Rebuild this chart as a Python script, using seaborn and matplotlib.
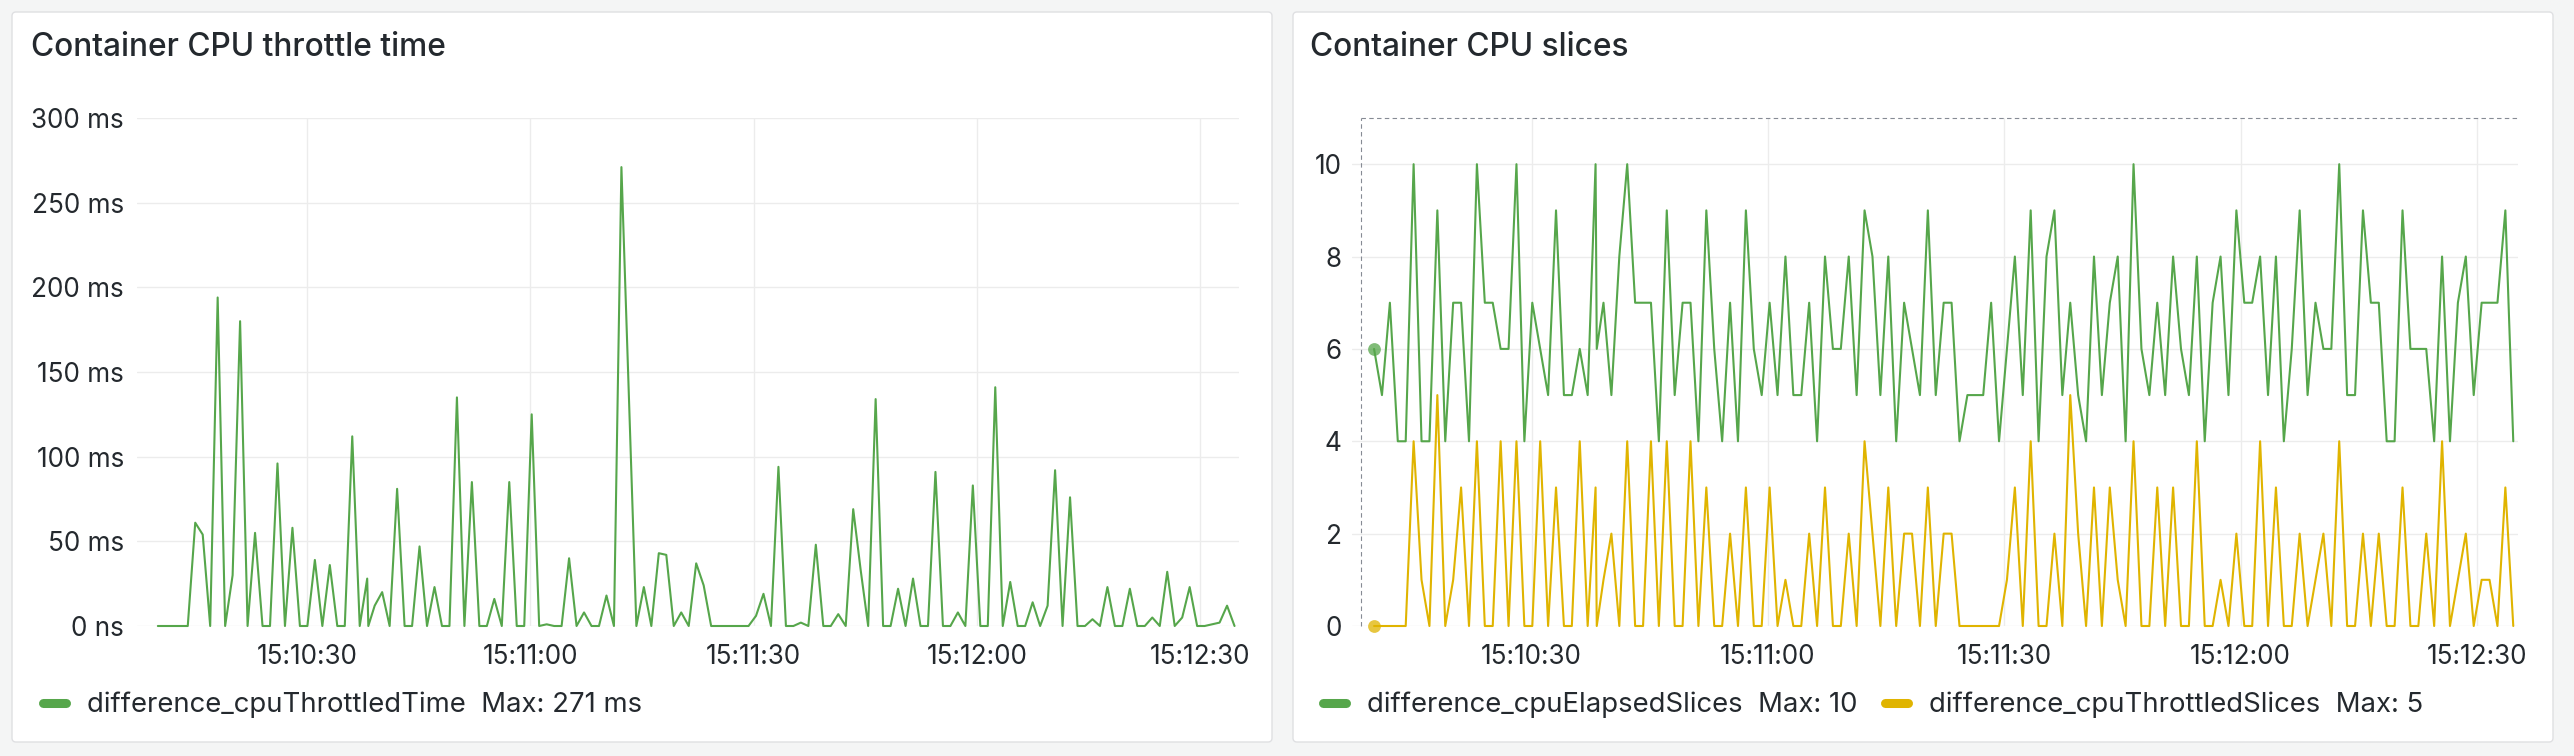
import pandas as pd
import seaborn as sns
import matplotlib.pyplot as plt
import matplotlib.dates as mdates
from matplotlib.lines import Line2D
from matplotlib.patches import FancyBboxPatch
from matplotlib.ticker import FixedLocator, FuncFormatter

# ---- data -----------------------------------------------------------------
# one scrape roughly every second, plus one extra scrape just after sample 28
start = "2024-01-01 15:10:10.0"
end = "2024-01-01 15:12:34.6"
n_regular = 145
extra_after = 28
extra_offset_s = 0.15

throttled_time_ms = [
    0, 0, 0, 0, 0, 61, 54, 0, 194, 0, 30, 180, 0, 55, 0, 0, 96, 0, 58, 0,
    0, 39, 0, 36, 0, 0, 112, 0, 28, 0,
    12, 20, 0,
    81, 0, 0, 47, 0, 23, 0, 0, 135, 0, 85, 0, 0, 16, 0, 85, 0, 0, 125,
    0, 1, 0, 0, 40, 0, 8, 0, 0, 18, 0, 271, 136, 0, 23, 0, 43, 42, 0, 8, 0, 37,
    24, 0, 0, 0, 0, 0, 0,
    6, 19, 0, 94, 0, 0, 2, 0, 48, 0,
    0, 7, 0, 69, 33, 0, 134, 0, 0, 22,
    0, 28, 0, 0, 91, 0, 0, 8, 0, 83,
    0, 0, 141, 0, 26, 0, 0, 14, 0, 12,
    92, 0, 76, 0, 0, 4, 0, 23, 0, 0,
    22, 0, 0, 5, 0, 32, 0, 5, 23, 0,
    0, 1, 2, 12, 0,
]

elapsed_slices = [
    6, 5, 7, 4, 4, 10, 4, 4, 9, 4, 7, 7, 4, 10, 7, 7, 6, 6, 10, 4,
    7, 6, 5, 9, 5, 5, 6, 5, 10, 6,
    7, 5, 8, 10, 7, 7, 7, 4, 9, 5, 7, 7, 4, 9, 6, 4, 7, 4, 9, 6, 5, 7,
    5, 8, 5, 5, 7, 4, 8, 6, 6, 8, 5, 9, 8, 5, 8, 4, 7, 6, 5, 9, 5,
    7, 7, 4, 5, 5, 5, 7, 4, 6, 8,
    5, 9, 4, 8, 9, 5, 7, 5, 4, 8,
    5, 7, 8, 4, 10, 6, 5, 7, 5, 8,
    6, 5, 8, 4, 7, 8, 5, 9, 7, 7,
    8, 5, 8, 4, 6, 9, 5, 7, 6, 6,
    10, 5, 5, 9, 7, 7, 4, 4, 9, 6,
    6, 6, 4, 8, 4, 7, 8, 5, 7, 7,
    7, 9, 4,
]

throttled_slices = [
    0, 0, 0, 0, 0, 4, 1, 0, 5, 0, 1, 3, 0, 4, 0, 0, 4, 0, 4, 0,
    0, 4, 0, 3, 0, 0, 4, 0, 3, 0,
    1, 2, 0, 4, 0, 0, 4, 0, 4, 0, 0, 4, 0, 3, 0, 0, 2, 0, 3, 0, 0, 3,
    0, 1, 0, 0, 2, 0, 3, 0, 0, 2, 0, 4, 2, 0, 3, 0, 2, 2, 0, 3, 0,
    2, 2, 0, 0, 0, 0, 0, 0, 1, 3,
    0, 4, 0, 0, 2, 0, 5, 2, 0, 3,
    0, 3, 1, 0, 4, 0, 0, 3, 0, 3,
    0, 0, 4, 0, 0, 1, 0, 2, 0, 0,
    4, 0, 3, 0, 0, 2, 0, 1, 2, 0,
    4, 0, 0, 2, 0, 2, 0, 0, 3, 0,
    0, 2, 0, 4, 0, 1, 2, 0, 1, 1,
    0, 3, 0,
]

x_lo = pd.Timestamp("2024-01-01 15:10:07.2")
x_hi = pd.Timestamp("2024-01-01 15:12:35.2")
selection_start = pd.Timestamp("2024-01-01 15:10:08.3")

regular = pd.date_range(start, end, periods=n_regular)
times = regular.insert(extra_after + 1, regular[extra_after] + pd.Timedelta(seconds=extra_offset_s))

GREEN = "#56a64b"
YELLOW = "#e0b400"
TEXT = "#24292e"
GRID = "#ececec"

W, H, DPI = 2574, 756, 100
TICK_FS = 18.8
LEG_FS = 19.8
TITLE_FS = 22.8

sns.set_style("white")
plt.rcParams["font.family"] = ["Inter", "DejaVu Sans"]

fig = plt.figure(figsize=(W / DPI, H / DPI), dpi=DPI, facecolor="#f4f5f5")


def fig_box(x0, y0, x1, y1):
    # pixel box (origin top-left) -> [left, bottom, width, height] in figure fraction
    return [x0 / W, 1 - y1 / H, (x1 - x0) / W, (y1 - y0) / H]


# panel cards (behind the axes)
for x0, x1 in [(12, 1272), (1293, 2553)]:
    fig.patches.append(FancyBboxPatch(
        (x0 / DPI, (H - 742) / DPI), (x1 - x0) / DPI, (742 - 12) / DPI,
        boxstyle="round,pad=0,rounding_size=0.04", transform=fig.dpi_scale_trans,
        facecolor="white", edgecolor="#dfe0e2", linewidth=1, zorder=-10))

ax1 = fig.add_axes(fig_box(137, 118, 1239, 626))
ax2 = fig.add_axes(fig_box(1352, 118, 2518, 626))

# left: throttle time
left_df = pd.DataFrame({"time": times, "value": throttled_time_ms})
sns.lineplot(data=left_df, x="time", y="value", ax=ax1, color=GREEN,
             linewidth=1.5, errorbar=None)

# right: slices
right_df = pd.DataFrame({
    "time": list(times) * 2,
    "value": elapsed_slices + throttled_slices,
    "series": ["elapsed"] * len(times) + ["throttled"] * len(times),
})
sns.lineplot(data=right_df, x="time", y="value", hue="series",
             palette={"elapsed": GREEN, "throttled": YELLOW}, ax=ax2,
             linewidth=1.5, errorbar=None, legend=False)

# hover markers on the first sample
ax2.scatter([times[0]], [elapsed_slices[0]], s=85, color=GREEN, alpha=0.75, zorder=5,
            linewidths=0, clip_on=False)
ax2.scatter([times[0]], [throttled_slices[0]], s=85, color=YELLOW, alpha=0.75, zorder=5,
            linewidths=0, clip_on=False)

# dashed selection box
ax2.plot([selection_start, x_hi], [11, 11], color="#868b94", lw=0.8, ls=(0, (4, 3)), clip_on=False)
ax2.plot([selection_start, selection_start], [0, 11], color="#868b94", lw=0.8, ls=(0, (4, 3)), clip_on=False)

for ax, ypad in [(ax1, 9.5), (ax2, 7.5)]:
    for s in ax.spines.values():
        s.set_visible(False)
    ax.set_facecolor("none")
    ax.grid(True, color=GRID, linewidth=1)
    ax.set_axisbelow(True)
    ax.tick_params(length=0, labelsize=TICK_FS, colors=TEXT)
    ax.tick_params(axis="y", pad=ypad)
    ax.tick_params(axis="x", pad=13)
    ax.xaxis.set_major_locator(mdates.SecondLocator(bysecond=[0, 30]))
    ax.xaxis.set_major_formatter(mdates.DateFormatter("%H:%M:%S"))
    ax.set_xlim(x_lo, x_hi)
    ax.set_xlabel("")
    ax.set_ylabel("")
    for line in ax.lines:
        line.set_clip_on(False)

ax1.set_ylim(0, 300)
ax1.yaxis.set_major_locator(FixedLocator(range(0, 301, 50)))
ax1.yaxis.set_major_formatter(FuncFormatter(lambda v, _: "0 ns" if v == 0 else f"{v:.0f} ms"))

ax2.set_ylim(0, 11)
ax2.yaxis.set_major_locator(FixedLocator(range(0, 11, 2)))
ax2.yaxis.set_major_formatter(FuncFormatter(lambda v, _: f"{v:.0f}"))

# titles
fig.text(31 / W, 1 - 47 / H, "Container CPU throttle time", fontsize=TITLE_FS,
         fontweight="medium", color=TEXT, ha="left", va="center")
fig.text(1310 / W, 1 - 47 / H, "Container CPU slices", fontsize=TITLE_FS,
         fontweight="medium", color=TEXT, ha="left", va="center")


# legends
def add_legend(ax, items, x_px):
    handles = [Line2D([], [], color=c, lw=6.5, solid_capstyle="round") for c, _ in items]
    labels = [lab for _, lab in items]
    ax.legend(handles, labels, loc="center left", bbox_to_anchor=(x_px / W, 1 - 705 / H),
              bbox_transform=fig.transFigure, frameon=False, ncol=len(items),
              fontsize=LEG_FS, handlelength=0.85, handletextpad=0.75,
              columnspacing=1.0, borderpad=0, borderaxespad=0, labelcolor=TEXT)


add_legend(ax1, [(GREEN, f"difference_cpuThrottledTime  Max: {max(throttled_time_ms)} ms")], 43)
add_legend(ax2, [(GREEN, f"difference_cpuElapsedSlices  Max: {max(elapsed_slices)}"),
                 (YELLOW, f"difference_cpuThrottledSlices  Max: {max(throttled_slices)}")], 1323)

fig.savefig("out.png", dpi=DPI, facecolor=fig.get_facecolor())
